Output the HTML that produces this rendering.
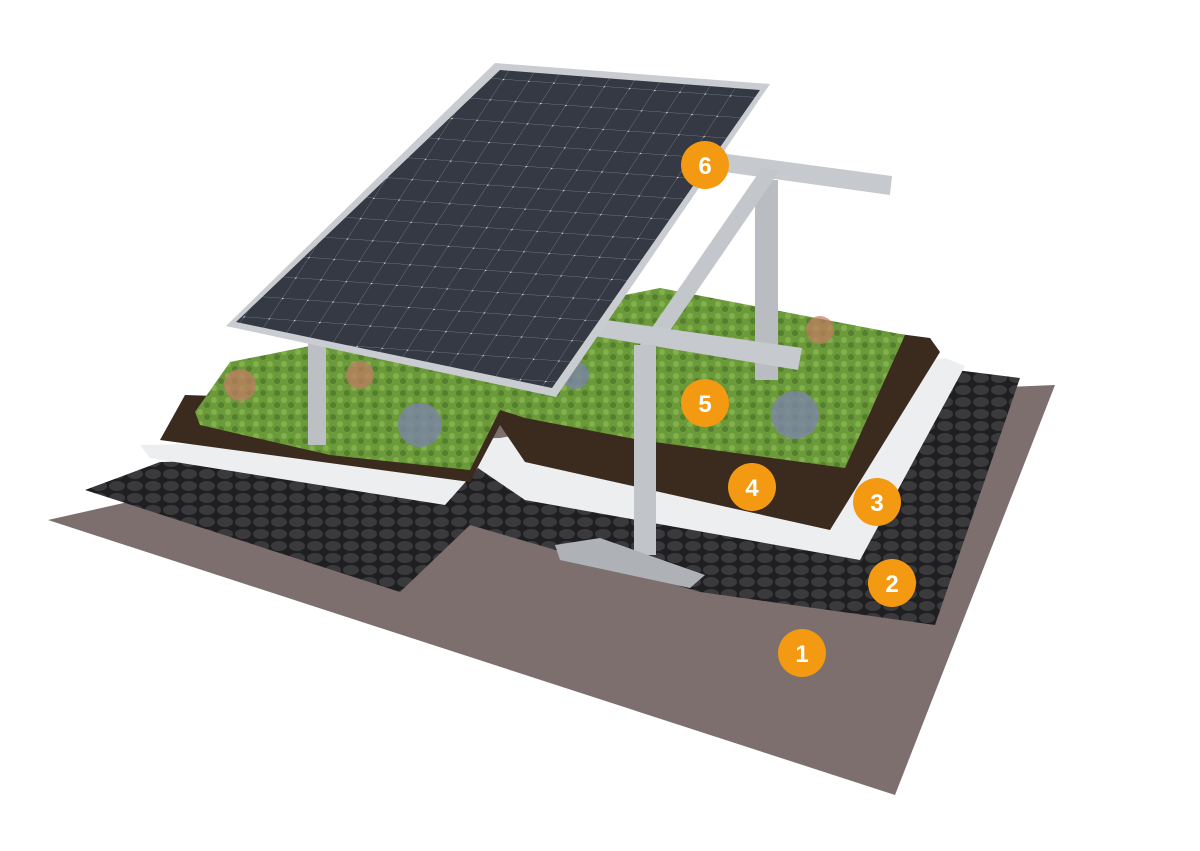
<!DOCTYPE html>
<html><head><meta charset="utf-8"><style>
html,body{margin:0;padding:0;background:#fff;width:1200px;height:851px;overflow:hidden}
svg{display:block}
text{font-family:"Liberation Sans",sans-serif;font-weight:bold;font-size:24px;fill:#fff}
</style></head><body>
<svg width="1200" height="851" viewBox="0 0 1200 851">
<defs>
<pattern id="cells" width="26" height="24" patternUnits="userSpaceOnUse" patternTransform="matrix(0.97,0.07,-0.55,0.85,0,0)">
<rect width="26" height="24" fill="#343944"/>
<path d="M0 0H26M0 0V24" stroke="#6f7785" stroke-width="1"/>
<circle cx="0" cy="0" r="1.5" fill="#e6e9ee"/>
</pattern>
<pattern id="tiles" width="18" height="12" patternUnits="userSpaceOnUse">
<rect width="18" height="12" fill="#1f1f21"/>
<ellipse cx="9" cy="6" rx="8" ry="5" fill="#3a3a3d"/>
</pattern>
<pattern id="veg" width="14" height="12" patternUnits="userSpaceOnUse">
<rect width="14" height="12" fill="#6a9a3a"/>
<circle cx="4" cy="4" r="3" fill="#82b04a"/>
<circle cx="11" cy="9" r="3" fill="#557f2e"/>
</pattern>
</defs>
<polygon points="48,520 560,405 1055,385 895,795" fill="#7d6f6e"/>
<polygon points="85,490 160,462 500,455 520,465 940,368 1020,378 935,625 700,592 470,525 400,592" fill="url(#tiles)"/>
<polygon points="140,445 500,438 945,358 965,366 860,560 525,500 478,468 445,505 150,458" fill="#eceef0"/>
<polygon points="160,440 185,395 500,405 530,412 640,300 930,338 940,352 830,530 525,462 500,425 470,482" fill="#3b2a1e"/>
<polygon points="195,412 230,362 330,342 470,350 600,300 660,288 905,335 845,468 640,440 525,418 500,410 470,470 330,455 200,425" fill="url(#veg)"/>
<circle cx="420" cy="425" r="22" fill="#7c84a8" opacity=".8"/>
<circle cx="795" cy="415" r="24" fill="#7c84a8" opacity=".8"/>
<circle cx="575" cy="375" r="14" fill="#7c84a8" opacity=".8"/>
<circle cx="240" cy="385" r="16" fill="#c47a62" opacity=".7"/>
<circle cx="360" cy="375" r="14" fill="#c47a62" opacity=".7"/>
<circle cx="820" cy="330" r="14" fill="#c47a62" opacity=".7"/>
<polygon points="755,180 778,180 778,380 755,380" fill="#b9bdc2"/>
<polygon points="712,152 892,176 890,195 710,170" fill="#c6cace"/>
<polygon points="640,345 660,345 780,170 762,168" fill="#c3c7cb"/>
<polygon points="592,318 802,348 798,370 588,335" fill="#c6cace"/>
<polygon points="308,340 326,340 326,445 308,445" fill="#bcc0c4"/>
<polygon points="634,345 656,345 656,555 634,555" fill="#c1c5c9"/>
<polygon points="555,545 600,538 705,575 690,588 560,560" fill="#aeb2b6"/>
<polygon points="495,63 770,84 556,397 226,326" fill="#c9cdd1"/>
<polygon points="500,70 760,90 552,388 236,322" fill="url(#cells)"/>
<g fill="#f39a12">
<circle cx="705" cy="165" r="24"/><circle cx="705" cy="403" r="24"/>
<circle cx="752" cy="487" r="24"/><circle cx="877" cy="502" r="24"/>
<circle cx="892" cy="583" r="24"/><circle cx="802" cy="653" r="24"/>
</g>
<g text-anchor="middle">
<text x="705" y="174">6</text><text x="705" y="412">5</text>
<text x="752" y="496">4</text><text x="877" y="511">3</text>
<text x="892" y="592">2</text><text x="802" y="662">1</text>
</g>
</svg>
</body></html>
